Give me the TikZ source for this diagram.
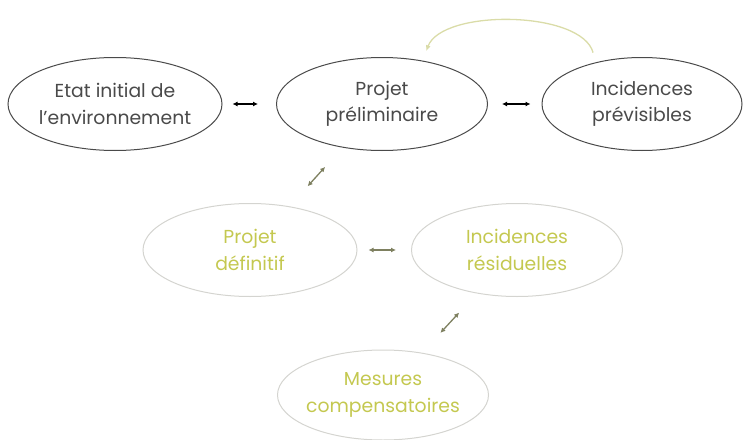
\documentclass[tikz,border=0pt]{standalone}
\usepackage{fontspec}
\setmainfont{Poppins}
\usetikzlibrary{shapes.geometric,arrows.meta}
\definecolor{topline}{HTML}{4A4A4A}
\definecolor{toptext}{HTML}{4A4A4A}
\definecolor{lowline}{HTML}{D4D4D0}
\definecolor{lowtext}{HTML}{C4C850}
\definecolor{loopcol}{HTML}{DADCA8}
\definecolor{smallarr}{HTML}{7E8060}
\begin{document}
\begin{tikzpicture}[
    x=1pt, y=-1pt,
    every node/.style={ellipse, align=center, font=\fontsize{18.8}{26.5}\selectfont, inner xsep=-30pt, inner ysep=-10pt},
    topbox/.style={draw=topline, line width=1pt, text=toptext, minimum width=211pt, minimum height=93pt},
    lowbox/.style={draw=lowline, line width=1pt, text=lowtext, minimum width=211pt, minimum height=93pt},
    link/.style={{Latex[length=5pt,width=5pt]}-{Latex[length=5pt,width=5pt]}, line width=1.3pt},
    loopback/.style={-{Latex[length=6pt,width=5pt]}, draw=loopcol, line width=1.3pt}
  ]
  \useasboundingbox (0,0) rectangle (744,439);

  % Top row
  \node[topbox, minimum width=214pt] (etat) at (115,104) {Etat initial de\\l'environnement};
  \node[topbox] (prelim) at (382,104) {Projet\\préliminaire};
  \node[topbox, minimum width=200pt] (previs) at (642,104) {Incidences\\prévisibles};

  % Lower rows
  \node[lowbox, minimum width=214pt] (definitif) at (250,250) {Projet\\définitif};
  \node[lowbox] (residu) at (517,250) {Incidences\\résiduelles};
  \node[lowbox, minimum height=90pt] (mesures) at (383,395) {Mesures\\compensatoires};

  % Connectors
  \draw[link, draw=black, shorten <=10pt, shorten >=18pt] (etat) -- (prelim);
  \draw[link, draw=black, shorten <=14pt, shorten >=11pt] (prelim) -- (previs);
  \draw[link, draw=smallarr, shorten <=26pt, shorten >=27pt] (prelim) -- (definitif);
  \draw[link, draw=smallarr, shorten <=11pt, shorten >=15pt] (definitif) -- (residu);
  \draw[link, draw=smallarr, shorten <=26pt, shorten >=27pt] (residu) -- (mesures);
  \draw[loopback, shorten <=10pt, shorten >=10pt] (previs.138) .. controls +(-14,-52) and +(20,-52) .. (prelim.47);

\end{tikzpicture}
\end{document}
